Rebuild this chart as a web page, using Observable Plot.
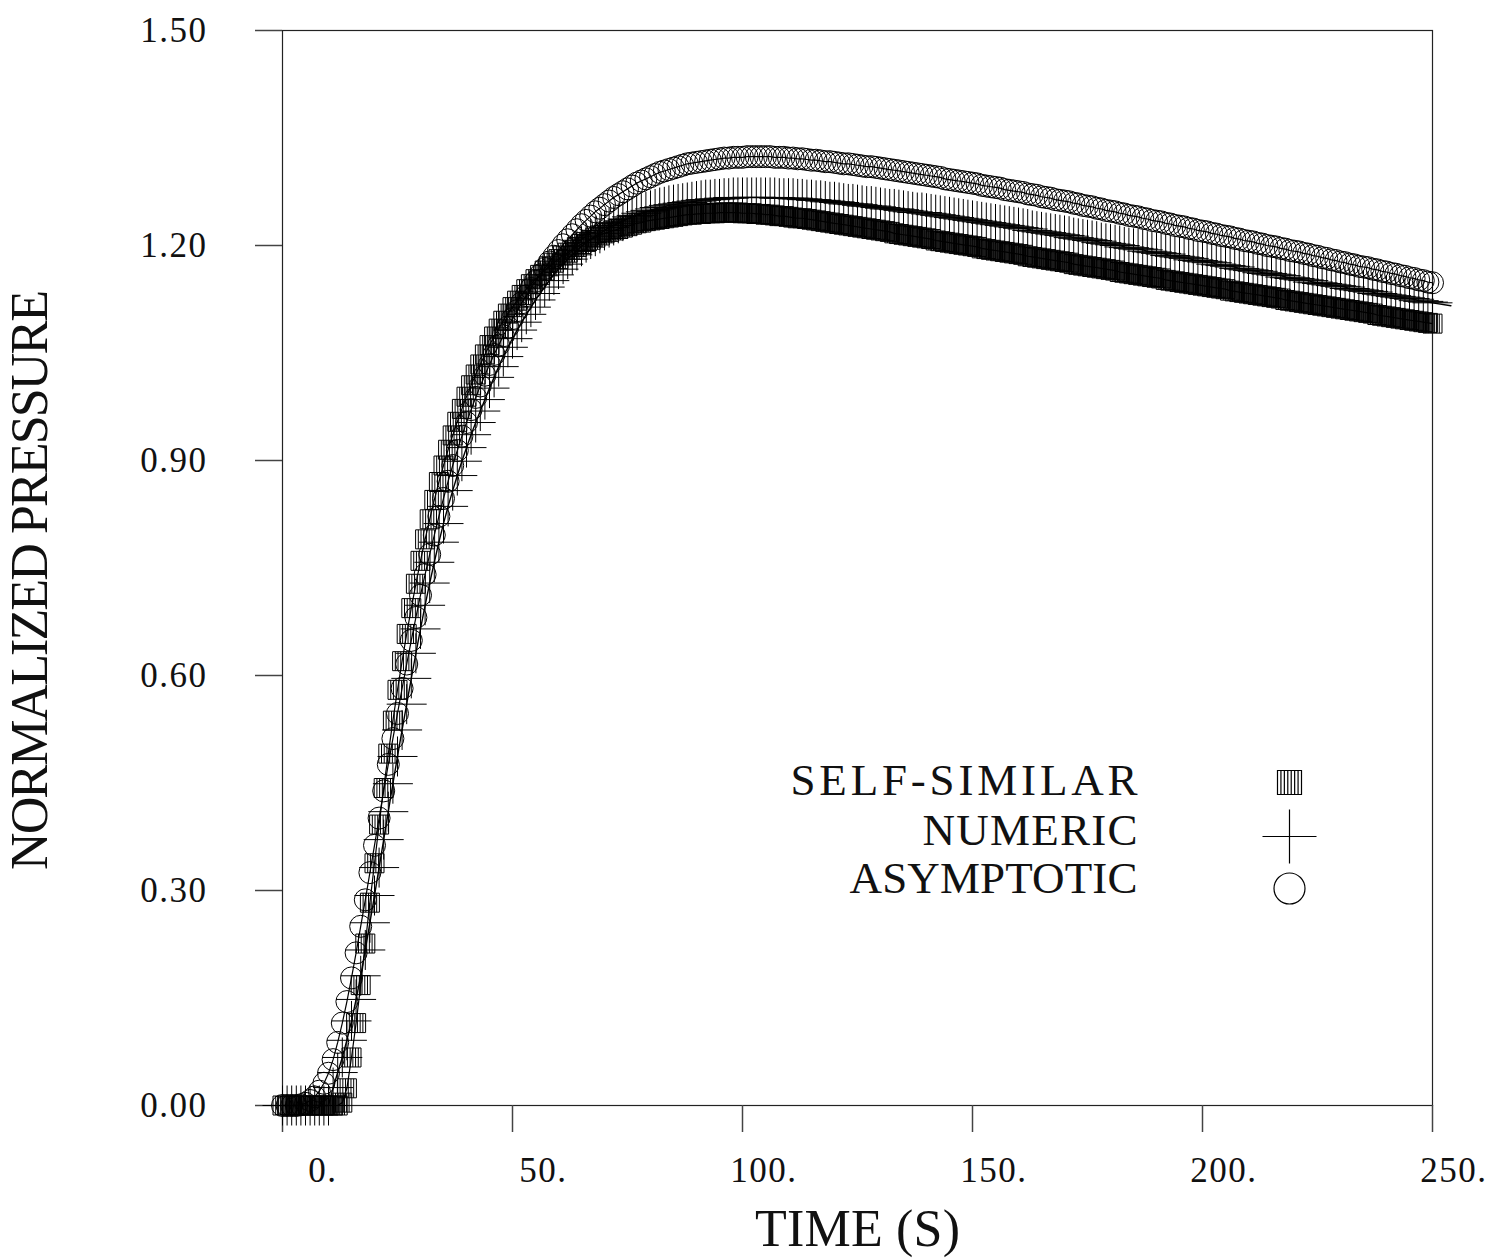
<!DOCTYPE html>
<html>
<head>
<meta charset="utf-8">
<script src="https://cdn.jsdelivr.net/npm/d3@7"></script>
<script src="https://cdn.jsdelivr.net/npm/@observablehq/plot@0.6"></script>
<style>
  html, body { margin: 0; padding: 0; background: #fff; }
  #chart svg { display: block; }
</style>
</head>
<body>
<div id="chart"></div>
<script>
// ---- data ----
const time = d3.range(0, 251); // seconds, one sample per second
const xTicks = [0, 50, 100, 150, 200, 250];
const yTicks = [0, 0.3, 0.6, 0.9, 1.2, 1.5];
const seriesNames = ["SELF-SIMILAR", "NUMERIC", "ASYMPTOTIC"];

const selfSimilar = [
  0,0,0,0,0,0,0,0,0,0,
  0,0,0,0.004,0.024,0.067,0.115,0.168,0.226,0.283,
  0.338,0.392,0.443,0.491,0.537,0.580,0.620,0.658,0.694,0.728,
  0.760,0.790,0.818,0.845,0.870,0.893,0.915,0.935,0.954,0.972,
  0.989,1.005,1.020,1.034,1.048,1.061,1.073,1.084,1.095,1.105,
  1.114,1.123,1.131,1.139,1.146,1.153,1.159,1.165,1.171,1.176,
  1.181,1.186,1.190,1.194,1.198,1.202,1.205,1.208,1.211,1.214,
  1.217,1.219,1.221,1.223,1.225,1.227,1.229,1.231,1.232,1.234,
  1.235,1.236,1.237,1.238,1.239,1.240,1.241,1.242,1.243,1.243,
  1.244,1.244,1.245,1.245,1.245,1.246,1.246,1.246,1.246,1.246,
  1.245,1.245,1.245,1.244,1.244,1.243,1.243,1.242,1.241,1.241,
  1.240,1.239,1.238,1.238,1.237,1.236,1.235,1.234,1.233,1.232,
  1.231,1.230,1.229,1.228,1.227,1.226,1.225,1.224,1.223,1.222,
  1.221,1.220,1.219,1.217,1.216,1.215,1.214,1.213,1.212,1.211,
  1.210,1.209,1.207,1.206,1.205,1.204,1.203,1.202,1.201,1.200,
  1.199,1.198,1.196,1.195,1.194,1.193,1.192,1.191,1.190,1.189,
  1.188,1.187,1.185,1.184,1.183,1.182,1.181,1.180,1.179,1.178,
  1.177,1.176,1.174,1.173,1.172,1.171,1.170,1.169,1.168,1.167,
  1.166,1.165,1.163,1.162,1.161,1.160,1.159,1.158,1.157,1.156,
  1.155,1.154,1.152,1.151,1.150,1.149,1.148,1.147,1.146,1.145,
  1.144,1.143,1.142,1.141,1.140,1.139,1.137,1.136,1.135,1.134,
  1.133,1.132,1.131,1.130,1.129,1.128,1.127,1.126,1.124,1.123,
  1.122,1.121,1.120,1.119,1.118,1.117,1.116,1.115,1.114,1.113,
  1.112,1.111,1.110,1.109,1.108,1.107,1.106,1.105,1.103,1.102,
  1.101,1.100,1.099,1.098,1.097,1.096,1.095,1.094,1.093,1.092,
  1.091
];

const numeric = [
  0,0,0,0,0,0,0,0,0,0,
  0,0.025,0.046,0.067,0.091,0.118,0.148,0.181,0.217,0.255,
  0.293,0.332,0.371,0.410,0.449,0.487,0.524,0.560,0.596,0.631,
  0.665,0.698,0.729,0.758,0.786,0.812,0.836,0.858,0.879,0.899,
  0.918,0.936,0.953,0.969,0.985,1.001,1.016,1.031,1.045,1.058,
  1.070,1.082,1.093,1.104,1.114,1.124,1.133,1.142,1.151,1.159,
  1.167,1.174,1.181,1.187,1.193,1.199,1.204,1.209,1.213,1.217,
  1.221,1.225,1.228,1.231,1.234,1.237,1.240,1.242,1.245,1.247,
  1.249,1.251,1.253,1.254,1.256,1.257,1.258,1.259,1.260,1.261,
  1.262,1.263,1.264,1.264,1.265,1.265,1.266,1.266,1.267,1.267,
  1.267,1.267,1.267,1.267,1.267,1.267,1.267,1.267,1.266,1.266,
  1.266,1.266,1.265,1.265,1.264,1.264,1.263,1.263,1.262,1.261,
  1.261,1.260,1.259,1.258,1.258,1.257,1.256,1.255,1.255,1.254,
  1.253,1.252,1.251,1.251,1.250,1.249,1.248,1.247,1.246,1.246,
  1.245,1.244,1.243,1.242,1.241,1.240,1.239,1.238,1.237,1.236,
  1.235,1.234,1.233,1.232,1.231,1.230,1.229,1.228,1.227,1.226,
  1.225,1.224,1.223,1.221,1.220,1.219,1.218,1.217,1.216,1.215,
  1.214,1.213,1.211,1.210,1.209,1.208,1.207,1.206,1.204,1.203,
  1.202,1.201,1.200,1.198,1.197,1.196,1.195,1.194,1.192,1.191,
  1.190,1.189,1.188,1.186,1.185,1.184,1.183,1.182,1.180,1.179,
  1.178,1.177,1.176,1.174,1.173,1.172,1.171,1.170,1.168,1.167,
  1.166,1.165,1.164,1.162,1.161,1.160,1.159,1.158,1.156,1.155,
  1.154,1.153,1.152,1.151,1.149,1.148,1.147,1.146,1.145,1.144,
  1.143,1.142,1.140,1.139,1.138,1.137,1.136,1.135,1.133,1.132,
  1.131,1.130,1.129,1.128,1.127,1.126,1.125,1.123,1.122,1.121,
  1.120
];
// the numeric curve's line runs a little past the last marker
const numericTailTime = [254];
const numericTailValue = [1.116];

const asymptotic = [
  0,0,0,0,0.001,0.003,0.007,0.012,0.020,0.031,
  0.045,0.064,0.088,0.115,0.145,0.178,0.213,0.250,0.287,0.325,
  0.363,0.401,0.439,0.476,0.512,0.547,0.582,0.616,0.649,0.681,
  0.712,0.741,0.769,0.796,0.822,0.847,0.871,0.893,0.914,0.934,
  0.953,0.971,0.988,1.004,1.019,1.034,1.048,1.061,1.074,1.086,
  1.098,1.109,1.120,1.130,1.140,1.150,1.159,1.168,1.177,1.185,
  1.193,1.201,1.208,1.215,1.222,1.229,1.235,1.241,1.247,1.252,
  1.257,1.262,1.267,1.271,1.275,1.279,1.283,1.287,1.290,1.293,
  1.296,1.299,1.302,1.304,1.306,1.308,1.310,1.312,1.314,1.315,
  1.316,1.317,1.318,1.319,1.320,1.321,1.322,1.322,1.323,1.323,
  1.323,1.324,1.324,1.324,1.324,1.324,1.324,1.323,1.323,1.323,
  1.322,1.322,1.321,1.321,1.320,1.319,1.319,1.318,1.317,1.317,
  1.316,1.315,1.314,1.314,1.313,1.312,1.311,1.310,1.310,1.309,
  1.308,1.307,1.306,1.305,1.304,1.303,1.302,1.301,1.300,1.299,
  1.298,1.297,1.296,1.295,1.293,1.292,1.291,1.290,1.289,1.288,
  1.287,1.286,1.284,1.283,1.282,1.281,1.280,1.278,1.277,1.276,
  1.275,1.274,1.272,1.271,1.270,1.268,1.267,1.266,1.264,1.263,
  1.262,1.261,1.259,1.258,1.256,1.255,1.254,1.252,1.251,1.249,
  1.248,1.247,1.245,1.244,1.242,1.241,1.240,1.238,1.237,1.235,
  1.234,1.233,1.231,1.230,1.228,1.227,1.226,1.224,1.223,1.221,
  1.220,1.219,1.217,1.216,1.214,1.213,1.212,1.210,1.209,1.207,
  1.206,1.205,1.203,1.202,1.200,1.199,1.198,1.196,1.195,1.193,
  1.192,1.191,1.189,1.188,1.186,1.185,1.183,1.182,1.180,1.179,
  1.177,1.176,1.174,1.173,1.171,1.170,1.169,1.167,1.166,1.164,
  1.163,1.161,1.160,1.158,1.157,1.155,1.154,1.152,1.151,1.149,
  1.148
];

// ---- symbols ----
const hatchedSquare = {
  draw(ctx, size) {
    const r = Math.sqrt(size / Math.PI);
    ctx.moveTo(-r, -r); ctx.lineTo(r, -r); ctx.lineTo(r, r); ctx.lineTo(-r, r); ctx.closePath();
    for (let k = 1; k <= 6; k++) {
      const x = -r + (k * 2 * r) / 7;
      ctx.moveTo(x, -r); ctx.lineTo(x, r);
    }
  }
};
const plusSymbol = {
  draw(ctx, size) {
    const r = Math.sqrt(size / Math.PI);
    ctx.moveTo(-r, 0); ctx.lineTo(r, 0);
    ctx.moveTo(0, -r); ctx.lineTo(0, r);
  }
};

const toRows = (vals) => time.map((t, i) => ({t, v: vals[i]}));
const selfRows = toRows(selfSimilar);
const numRows = toRows(numeric);
const asyRows = toRows(asymptotic);
const numLineRows = numRows.concat(numericTailTime.map((t, i) => ({t, v: numericTailValue[i]})));

const FONT = "'Liberation Serif', 'DejaVu Serif', serif";
const INK = "#111";
const thin = {stroke: "white", strokeWidth: 0.7};

const legendRows = [
  {label: seriesNames[0], symbol: hatchedSquare, r: 12, symDy: 752, txtDy: 750},
  {label: seriesNames[1], symbol: plusSymbol, r: 27, symDy: 806, txtDy: 800},
  {label: seriesNames[2], symbol: "circle", r: 15.5, symDy: 858, txtDy: 848}
];
const legendMarks = legendRows.flatMap(row => [
  Plot.dot([row.label], {frameAnchor: "top-left", dx: 1007, dy: row.symDy, symbol: row.symbol, r: row.r, fill: "none", stroke: "black", strokeWidth: 1.2}),
  Plot.text([row.label], {frameAnchor: "top-left", dx: 855, dy: row.txtDy, text: d => d, textAnchor: "end", lineAnchor: "middle", fontSize: 45, fill: INK, ...thin})
]);

const chart = Plot.plot({
  width: 1490,
  height: 1258,
  marginLeft: 282,
  marginRight: 58,
  marginTop: 30,
  marginBottom: 153,
  x: {domain: [0, 250], axis: null},
  y: {domain: [0, 1.5], axis: null},
  style: {background: "white", fontFamily: FONT},
  marks: [
    Plot.frame({stroke: "#222", strokeWidth: 1.2}),
    Plot.ruleX(xTicks, {x: d => d, y1: 0, y2: 0, insetBottom: -27, stroke: "#444", strokeWidth: 1.5}),
    Plot.ruleY(yTicks, {y: d => d, x1: 0, x2: 0, insetLeft: -27, stroke: "#444", strokeWidth: 1.5}),
    Plot.text(xTicks, {x: d => d, frameAnchor: "bottom", dy: 65, dx: 55, text: d => `${d}.`, textAnchor: "end", fontSize: 35, lineAnchor: "middle", fill: INK, ...thin}),
    Plot.text(yTicks, {y: d => d, frameAnchor: "left", dx: -75, text: d => d.toFixed(2), textAnchor: "end", fontSize: 35, lineAnchor: "middle", fill: INK, ...thin}),
    Plot.text(["TIME (S)"], {frameAnchor: "bottom", dy: 124, text: d => d, textAnchor: "middle", fontSize: 52, lineAnchor: "middle", fill: INK, ...thin}),
    Plot.text(["NORMALIZED PRESSURE"], {frameAnchor: "left", dx: -252, dy: 12, rotate: -90, text: d => d, textAnchor: "middle", fontSize: 52, lineAnchor: "middle", fill: INK, ...thin}),
    Plot.line(selfRows, {x: "t", y: "v", stroke: "black", strokeWidth: 1.2}),
    Plot.line(numLineRows, {x: "t", y: "v", stroke: "black", strokeWidth: 1.4}),
    Plot.line(asyRows, {x: "t", y: "v", stroke: "black", strokeWidth: 1.2}),
    Plot.dot(selfRows, {x: "t", y: "v", symbol: hatchedSquare, r: 9.5, fill: "none", stroke: "black", strokeWidth: 1}),
    Plot.dot(numRows, {x: "t", y: "v", symbol: plusSymbol, r: 20, fill: "none", stroke: "black", strokeWidth: 1}),
    Plot.dot(asyRows, {x: "t", y: "v", symbol: "circle", r: 11, fill: "none", stroke: "black", strokeWidth: 1}),
    ...legendMarks
  ]
});

// match the wide, lettered look of the original plotter font
const textLengths = {"TIME (S)": 205, "NORMALIZED PRESSURE": 580, "SELF-SIMILAR": 347, "NUMERIC": 215, "ASYMPTOTIC": 288};
d3.select(chart).selectAll("text").each(function() {
  const s = this.textContent;
  if (textLengths[s]) {
    this.setAttribute("textLength", textLengths[s]);
    this.setAttribute("lengthAdjust", "spacing");
  } else {
    this.setAttribute("letter-spacing", "1.5px");
  }
});

document.getElementById("chart").appendChild(chart);
</script>
</body>
</html>
